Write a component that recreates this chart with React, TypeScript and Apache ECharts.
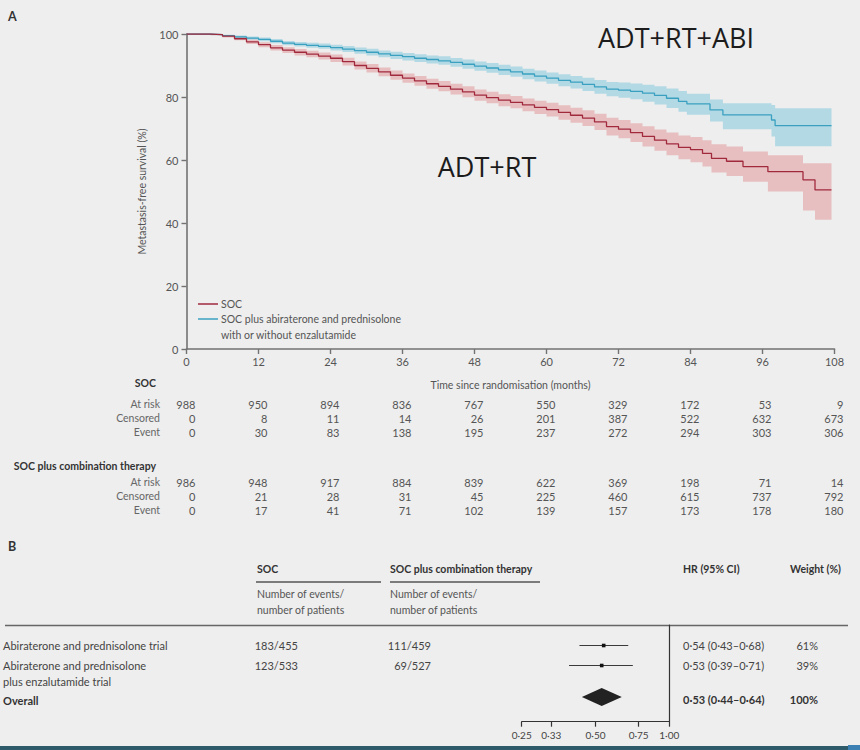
import React, { useEffect, useRef } from "react";
import * as echarts from "echarts";

// ---- Kaplan–Meier estimates: metastasis-free survival (%) by month ----
const socMonths = [0, 2, 4, 6, 8, 10, 12, 14, 16, 18, 20, 22, 24, 26, 28, 30, 32, 34, 36, 38, 40, 42, 44, 46, 48, 50, 52, 54, 56, 58, 60, 62, 64, 66, 68, 70, 72, 74, 76, 78, 80, 82, 84, 86, 87.5, 90, 92.75, 96.9, 102.75, 104.75, 107.5];
const socSurvival = [100, 100, 99.8, 99.3, 98.5, 97.5, 96.6, 95.6, 94.9, 94.2, 93.6, 93.0, 92.3, 91.2, 90.0, 89.1, 88.0, 86.9, 86.0, 85.1, 84.2, 83.4, 82.5, 81.6, 80.6, 79.8, 79.0, 78.3, 77.5, 76.7, 76.0, 75.1, 74.2, 73.3, 72.1, 70.6, 69.8, 68.7, 67.5, 66.3, 65.1, 64.0, 63.3, 62.1, 60.5, 59.6, 57.9, 56.3, 53.7, 50.5, 50.5];
const socLower = [100, 99.9, 99.6, 98.9, 98.0, 96.8, 95.8, 94.8, 94.0, 93.2, 92.6, 91.9, 91.1, 90.0, 88.7, 87.8, 86.6, 85.5, 84.5, 83.6, 82.6, 81.8, 80.8, 79.9, 78.8, 78.0, 77.1, 76.4, 75.5, 74.6, 73.8, 72.8, 71.8, 70.8, 69.5, 67.8, 66.9, 65.7, 64.3, 62.9, 61.5, 60.2, 59.3, 57.9, 56.0, 54.9, 53.1, 50.0, 44.0, 41.0, 41.0];
const socUpper = [100, 100, 100, 99.7, 99.1, 98.2, 97.4, 96.5, 95.8, 95.2, 94.7, 94.1, 93.5, 92.5, 91.3, 90.5, 89.4, 88.4, 87.5, 86.7, 85.8, 85.1, 84.2, 83.4, 82.4, 81.7, 80.9, 80.3, 79.5, 78.8, 78.2, 77.4, 76.6, 75.8, 74.7, 73.4, 72.7, 71.7, 70.7, 69.7, 68.7, 67.8, 67.3, 66.3, 65.0, 64.3, 62.7, 61.5, 59.0, 59.0, 59.0];

const comboMonths = [0, 2, 4, 6, 8, 10, 12, 14, 16, 18, 20, 22, 24, 26, 28, 30, 32, 34, 36, 38, 40, 42, 44, 46, 48, 50, 52, 54, 56, 58, 60, 62, 64, 66, 68, 70, 72, 74, 76, 78, 80, 82, 83.4, 87.25, 89.4, 97.5, 98.1, 107.5];
const comboSurvival = [100, 100, 99.8, 99.5, 99.1, 98.7, 98.3, 97.7, 97.1, 96.7, 96.4, 96.1, 95.7, 95.2, 94.7, 94.2, 93.7, 93.2, 92.8, 92.3, 91.9, 91.5, 91.0, 90.4, 89.8, 89.2, 88.6, 88.0, 87.3, 86.6, 86.0, 85.3, 84.7, 84.0, 83.2, 82.5, 82.2, 81.8, 81.2, 80.5, 79.6, 78.6, 77.8, 75.9, 74.3, 72.7, 70.9, 70.9];
const comboLower = [100, 99.9, 99.6, 99.2, 98.7, 98.2, 97.7, 97.1, 96.4, 96.0, 95.6, 95.3, 94.8, 94.3, 93.7, 93.2, 92.6, 92.1, 91.6, 91.1, 90.6, 90.2, 89.6, 89.0, 88.3, 87.7, 87.0, 86.4, 85.6, 84.9, 84.2, 83.4, 82.7, 81.9, 81.0, 80.2, 79.8, 79.3, 78.5, 77.6, 76.5, 75.3, 74.4, 72.2, 69.8, 67.5, 64.4, 64.4];
const comboUpper = [100, 100, 100, 99.8, 99.5, 99.2, 98.9, 98.4, 97.8, 97.5, 97.2, 97.0, 96.6, 96.2, 95.7, 95.3, 94.8, 94.4, 94.0, 93.6, 93.2, 92.9, 92.4, 91.9, 91.3, 90.8, 90.2, 89.7, 89.0, 88.4, 87.8, 87.2, 86.7, 86.1, 85.4, 84.8, 84.6, 84.3, 83.9, 83.4, 82.7, 81.9, 81.0, 79.2, 78.0, 77.5, 76.4, 76.4];

const seriesNames = ["SOC", "SOC plus abiraterone and prednisolone\nwith or without enzalutamide"];

// ---- Numbers at risk table ----
const riskMonths = [0, 12, 24, 36, 48, 60, 72, 84, 96, 108];
const riskRowLabels = ["At risk", "Censored", "Event"];
const riskGroupTitles = ["SOC", "SOC plus combination therapy"];
const socAtRisk = [988, 950, 894, 836, 767, 550, 329, 172, 53, 9];
const socCensored = [0, 8, 11, 14, 26, 201, 387, 522, 632, 673];
const socEvents = [0, 30, 83, 138, 195, 237, 272, 294, 303, 306];
const comboAtRisk = [986, 948, 917, 884, 839, 622, 369, 198, 71, 14];
const comboCensored = [0, 21, 28, 31, 45, 225, 460, 615, 737, 792];
const comboEvents = [0, 17, 41, 71, 102, 139, 157, 173, 178, 180];

// ---- Meta-analysis (forest plot) ----
const trialNames = ["Abiraterone and prednisolone trial", "Abiraterone and prednisolone\nplus enzalutamide trial"];
const socTrialEvents = [183, 123];
const socTrialPatients = [455, 533];
const comboTrialEvents = [111, 69];
const comboTrialPatients = [459, 527];
const trialHR = [0.54, 0.53];
const trialLow = [0.43, 0.39];
const trialHigh = [0.68, 0.71];
const trialWeight = [61, 39];
const overallLabel = "Overall";
const overallHR = 0.53;
const overallLow = 0.44;
const overallHigh = 0.64;
const overallWeight = 100;
const forestTicks = [0.25, 0.33, 0.5, 0.75, 1];

// ---- styling ----
const BG = "#eeeeee";
const FONT = "Lato, 'Open Sans', sans-serif";
const AXIS_GREY = "#727272";
const SOC_LINE = "#a02a3c";
const SOC_BAND = "rgba(222,120,125,0.40)";
const COMBO_LINE = "#3aa0c0";
const COMBO_BAND = "rgba(90,185,215,0.40)";

// layout of the forest panel (vertical offsets inside its grid, px)
const FOREST_TOP = 625;
const FOREST_HEIGHT = 96.7;
const FOREST_ROW_OFFSETS = [20.5, 40.5];
const FOREST_OVERALL_OFFSET = 72;

const fmtHR = (v: number) => v.toFixed(2).replace(".", "\u00b7");

// step-shaped confidence band as a single polygon
const bandRenderer = (months: number[], lower: number[], upper: number[], color: string) =>
  (params: any, api: any) => {
    if (params.dataIndex !== 0) return null;
    const n = months.length;
    const pts: number[][] = [];
    for (let i = 0; i < n - 1; i++) {
      pts.push(api.coord([months[i], upper[i]]));
      pts.push(api.coord([months[i + 1], upper[i]]));
    }
    pts.push(api.coord([months[n - 1], upper[n - 1]]));
    pts.push(api.coord([months[n - 1], lower[n - 1]]));
    for (let i = n - 2; i >= 0; i--) {
      pts.push(api.coord([months[i + 1], lower[i]]));
      pts.push(api.coord([months[i], lower[i]]));
    }
    return { type: "polygon", shape: { points: pts }, style: { fill: color }, silent: true };
  };

function buildOption() {
  const forestTickValues = forestTicks.map((t) => Math.log(t));
  return {
    animation: false,
    backgroundColor: BG,
    textStyle: { fontFamily: FONT },
    grid: [
      { left: 186.5, right: 25.5, top: 34, height: 315 },
      { left: 521.7, right: 860 - 669.3, top: FOREST_TOP, height: FOREST_HEIGHT },
    ],
    xAxis: [
      {
        gridIndex: 0, type: "value", min: 0, max: 108, interval: 12,
        name: "Time since randomisation (months)", nameLocation: "middle", nameGap: 30,
        nameTextStyle: { color: "#555", fontSize: 10.5, fontFamily: FONT },
        axisLine: { show: true, onZero: false, lineStyle: { color: AXIS_GREY, width: 1.6 } },
        axisTick: { show: true, length: 5, lineStyle: { color: AXIS_GREY, width: 1.4 } },
        axisLabel: { color: "#555", fontSize: 11, margin: 7, fontFamily: FONT },
        splitLine: { show: false },
      },
      {
        gridIndex: 1, type: "value",
        min: forestTickValues[0], max: forestTickValues[forestTickValues.length - 1],
        axisLine: { show: true, onZero: false, lineStyle: { color: "#333", width: 1.2 } },
        axisTick: { show: true, length: 5, customValues: forestTickValues, lineStyle: { color: "#333", width: 1.2 } },
        axisLabel: {
          customValues: forestTickValues, formatter: (v: number) => fmtHR(Math.exp(v)),
          color: "#444", fontSize: 10, margin: 8, fontFamily: FONT,
        },
        splitLine: { show: false },
      },
    ],
    yAxis: [
      {
        gridIndex: 0, type: "value", min: 0, max: 100, interval: 20,
        name: "Metastasis-free survival (%)", nameLocation: "middle", nameGap: 39, nameRotate: 90,
        nameTextStyle: { color: "#555", fontSize: 10.5, fontFamily: FONT },
        axisLine: { show: true, onZero: false, lineStyle: { color: AXIS_GREY, width: 1.6 } },
        axisTick: { show: true, length: 5, lineStyle: { color: AXIS_GREY, width: 1.4 } },
        axisLabel: { color: "#555", fontSize: 11, margin: 8, fontFamily: FONT },
        splitLine: { show: false },
      },
      {
        gridIndex: 1, type: "value", inverse: true, min: 0, max: FOREST_HEIGHT, position: "right",
        axisLine: { show: true, onZero: false, lineStyle: { color: "#333", width: 1.2 } },
        axisTick: { show: false }, axisLabel: { show: false }, splitLine: { show: false },
      },
    ],
    series: [
      {
        type: "custom", name: "combo-ci", xAxisIndex: 0, yAxisIndex: 0, silent: true, z: 1,
        data: comboMonths.map((t, i) => [t, comboLower[i], comboUpper[i]]),
        encode: { x: 0, y: [1, 2] },
        renderItem: bandRenderer(comboMonths, comboLower, comboUpper, COMBO_BAND),
      },
      {
        type: "custom", name: "soc-ci", xAxisIndex: 0, yAxisIndex: 0, silent: true, z: 1,
        data: socMonths.map((t, i) => [t, socLower[i], socUpper[i]]),
        encode: { x: 0, y: [1, 2] },
        renderItem: bandRenderer(socMonths, socLower, socUpper, SOC_BAND),
      },
      {
        type: "line", name: seriesNames[1], xAxisIndex: 0, yAxisIndex: 0, step: "end",
        showSymbol: false, z: 3,
        data: comboMonths.map((t, i) => [t, comboSurvival[i]]),
        lineStyle: { color: COMBO_LINE, width: 1.3 },
      },
      {
        type: "line", name: seriesNames[0], xAxisIndex: 0, yAxisIndex: 0, step: "end",
        showSymbol: false, z: 4,
        data: socMonths.map((t, i) => [t, socSurvival[i]]),
        lineStyle: { color: SOC_LINE, width: 1.3 },
      },
      {
        type: "custom", name: "trials", xAxisIndex: 1, yAxisIndex: 1, silent: true,
        data: trialHR.map((h, i) => [Math.log(h), Math.log(trialLow[i]), Math.log(trialHigh[i]), FOREST_ROW_OFFSETS[i]]),
        encode: { x: [0, 1, 2], y: 3 },
        renderItem: (params: any, api: any) => {
          const row = api.value(3);
          const p = api.coord([api.value(0), row]);
          const a = api.coord([api.value(1), row]);
          const b = api.coord([api.value(2), row]);
          return {
            type: "group",
            children: [
              { type: "line", shape: { x1: a[0], y1: a[1], x2: b[0], y2: b[1] }, style: { stroke: "#3a3a3a", lineWidth: 1.2 } },
              { type: "rect", shape: { x: p[0] - 1.8, y: p[1] - 1.8, width: 3.6, height: 3.6 }, style: { fill: "#111" } },
            ],
          };
        },
      },
      {
        type: "custom", name: "overall", xAxisIndex: 1, yAxisIndex: 1, silent: true,
        data: [[Math.log(overallHR), Math.log(overallLow), Math.log(overallHigh), FOREST_OVERALL_OFFSET]],
        encode: { x: [0, 1, 2], y: 3 },
        renderItem: (params: any, api: any) => {
          const row = api.value(3);
          const p = api.coord([api.value(0), row]);
          const a = api.coord([api.value(1), row]);
          const b = api.coord([api.value(2), row]);
          return {
            type: "polygon",
            shape: { points: [a, [p[0], p[1] - 9], b, [p[0], p[1] + 9]] },
            style: { fill: "#222" },
          };
        },
      },
    ],
  };
}

type TextOpts = { color?: string; size?: number; weight?: string; align?: string; family?: string };
const txt = (x: number, y: number, text: string, o: TextOpts = {}) => ({
  type: "text", x, y, silent: true,
  style: {
    text,
    fill: o.color ?? "#555",
    fontSize: o.size ?? 10.5,
    fontWeight: o.weight ?? "normal",
    fontFamily: o.family ?? FONT,
    align: o.align ?? "left",
    textAlign: o.align ?? "left",
    verticalAlign: "middle",
    textVerticalAlign: "middle",
  },
});
const hline = (x1: number, x2: number, y: number, stroke: string, w: number) => ({
  type: "line", silent: true, shape: { x1, y1: y, x2, y2: y }, style: { stroke, lineWidth: w },
});

function buildGraphics(chart: any) {
  const els: any[] = [];
  // panel letters
  els.push(txt(8, 16, "A", { color: "#333", size: 12.5, weight: "bold", align: "left" }));
  els.push(txt(8, 546, "B", { color: "#333", size: 12.5, weight: "bold", align: "left" }));

  // arm annotations
  els.push(txt(676, 37, "ADT+RT+ABI", { color: "#1c1c1c", size: 27, family: "'Open Sans', sans-serif", align: "center" }));
  els.push(txt(487, 166, "ADT+RT", { color: "#1c1c1c", size: 27, family: "'Open Sans', sans-serif", align: "center" }));

  // legend
  const legendColors = [SOC_LINE, COMBO_LINE];
  const legendY = [304, 319];
  seriesNames.forEach((name, i) => {
    els.push(hline(198, 218, legendY[i], legendColors[i], 1.5));
    name.split("\n").forEach((line, k) => {
      els.push(txt(221, legendY[i] + k * 16, line, { color: "#555", size: 10.5 }));
    });
  });

  // numbers at risk
  const colX = riskMonths.map((m) => chart.convertToPixel({ xAxisIndex: 0 }, m) as number);
  const groups = [
    { headerY: 383, rowY: 404, values: [socAtRisk, socCensored, socEvents] },
    { headerY: 466, rowY: 482, values: [comboAtRisk, comboCensored, comboEvents] },
  ];
  groups.forEach((g, gi) => {
    els.push(txt(156, g.headerY, riskGroupTitles[gi], { color: "#333", size: 10.5, weight: "bold", align: "right" }));
    g.values.forEach((vals, ri) => {
      const y = g.rowY + ri * 14.2;
      els.push(txt(160, y, riskRowLabels[ri], { color: "#666", size: 10.5, align: "right" }));
      vals.forEach((v, ci) => {
        els.push(txt(colX[ci] + 9, y, String(v), { color: "#555", size: 11, align: "right" }));
      });
    });
  });

  // forest plot table
  const rowPx = FOREST_ROW_OFFSETS.map((o) => chart.convertToPixel({ yAxisIndex: 1 }, o) as number);
  const overallPx = chart.convertToPixel({ yAxisIndex: 1 }, FOREST_OVERALL_OFFSET) as number;
  const hdrY = 569;
  els.push(txt(257, hdrY, "SOC", { color: "#333", size: 10.5, weight: "bold" }));
  els.push(txt(390, hdrY, "SOC plus combination therapy", { color: "#333", size: 10.5, weight: "bold" }));
  els.push(txt(683, hdrY, "HR (95% CI)", { color: "#333", size: 10.5, weight: "bold" }));
  els.push(txt(790, hdrY, "Weight (%)", { color: "#333", size: 10.5, weight: "bold" }));
  els.push(hline(256, 381, 582, "#555", 1.3));
  els.push(hline(390, 540, 582, "#555", 1.3));
  ["Number of events/", "number of patients"].forEach((line, k) => {
    els.push(txt(257, 594 + k * 16, line, { color: "#555", size: 10.5 }));
    els.push(txt(390, 594 + k * 16, line, { color: "#555", size: 10.5 }));
  });
  els.push(hline(5, 848, FOREST_TOP + 0.5, "#666", 1.3));

  trialNames.forEach((name, i) => {
    const y = rowPx[i];
    name.split("\n").forEach((line, k) => {
      els.push(txt(3, y + k * 16, line, { color: "#444", size: 11 }));
    });
    els.push(txt(298, y, `${socTrialEvents[i]}/${socTrialPatients[i]}`, { color: "#444", size: 11, align: "right" }));
    els.push(txt(431, y, `${comboTrialEvents[i]}/${comboTrialPatients[i]}`, { color: "#444", size: 11, align: "right" }));
    els.push(txt(683, y, `${fmtHR(trialHR[i])} (${fmtHR(trialLow[i])}\u2013${fmtHR(trialHigh[i])})`, { color: "#444", size: 11 }));
    els.push(txt(818, y, `${trialWeight[i]}%`, { color: "#444", size: 11, align: "right" }));
  });
  els.push(txt(3, overallPx + 3, overallLabel, { color: "#333", size: 11, weight: "bold" }));
  els.push(txt(683, overallPx + 2, `${fmtHR(overallHR)} (${fmtHR(overallLow)}\u2013${fmtHR(overallHigh)})`, { color: "#333", size: 11, weight: "bold" }));
  els.push(txt(818, overallPx + 2, `${overallWeight}%`, { color: "#333", size: 11, weight: "bold", align: "right" }));

  // slide footer strip
  els.push({ type: "rect", silent: true, shape: { x: 0, y: 746, width: 860, height: 4 }, style: { fill: "#2d5b69" } });
  els.push({ type: "rect", silent: true, shape: { x: 848, y: 745, width: 12, height: 5 }, style: { fill: "#3c7fb2" } });
  return els;
}

export default function App() {
  const ref = useRef<HTMLDivElement>(null);
  useEffect(() => {
    const el = ref.current;
    if (!el) return;
    const chart = echarts.init(el, null, { renderer: "svg" });
    chart.setOption(buildOption() as any);
    chart.setOption({ graphic: buildGraphics(chart) } as any);
    return () => chart.dispose();
  }, []);
  return (
    <div
      ref={ref}
      style={{ position: "fixed", left: 0, top: 0, width: 860, height: 750, background: BG }}
    />
  );
}
